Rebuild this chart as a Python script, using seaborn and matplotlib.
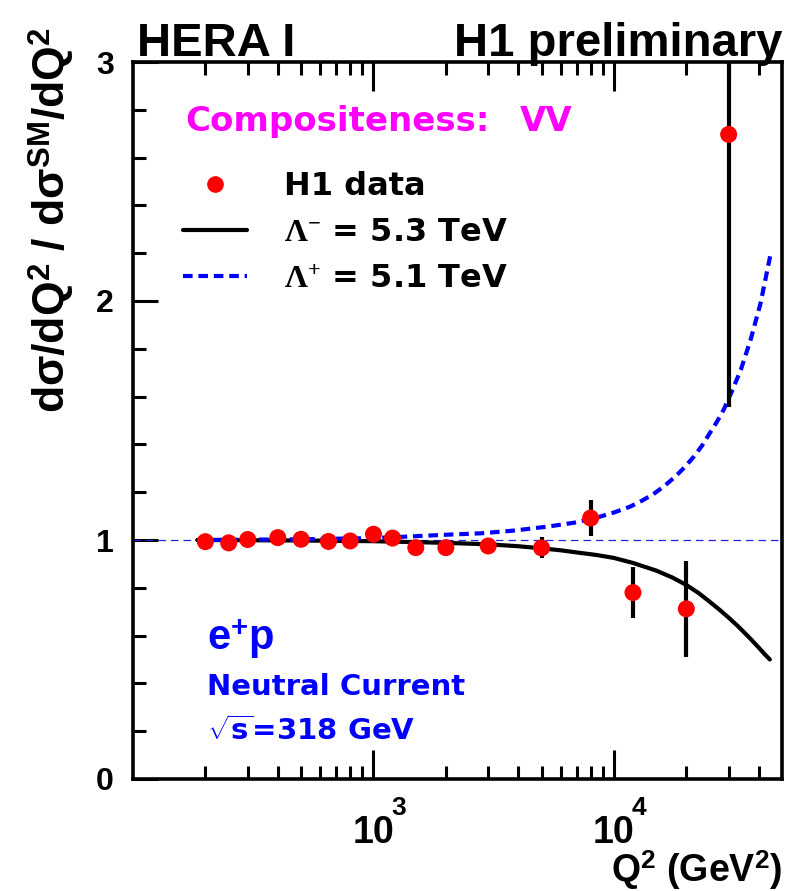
import matplotlib
matplotlib.use("Agg")
import matplotlib.pyplot as plt
from matplotlib.lines import Line2D
from matplotlib.ticker import FixedLocator, NullFormatter
from matplotlib.transforms import blended_transform_factory, offset_copy
import seaborn as sns
import pandas as pd

# H1 e+p neutral-current cross section ratio to the Standard Model
q2 = [200, 250, 300, 400, 500, 650, 800, 1000, 1200, 1500, 2000, 3000,
      5000, 8000, 12000, 20000, 30000]
ratio = [0.993, 0.988, 1.002, 1.010, 1.003, 0.994, 0.996, 1.024, 1.008,
         0.968, 0.968, 0.975, 0.967, 1.092, 0.780, 0.712, 2.697]
ratio_err = [0.012, 0.012, 0.012, 0.012, 0.012, 0.012, 0.012, 0.014, 0.015,
             0.018, 0.020, 0.025, 0.044, 0.075, 0.105, 0.200, 1.140]

# contact-interaction predictions (VV model)
lam_minus_q2 = [185, 500, 1000, 2000, 3000, 4000, 5000, 6000, 7000, 8500,
                10000, 12000, 15000, 17500, 20000, 22500, 25000, 27500,
                30000, 32500, 35000, 37500, 40000, 42000, 44500]
lam_minus_ratio = [1.000, 0.998, 0.995, 0.988, 0.982, 0.974, 0.965, 0.957,
                   0.948, 0.937, 0.925, 0.904, 0.872, 0.843, 0.812, 0.778,
                   0.742, 0.708, 0.675, 0.643, 0.611, 0.580, 0.550, 0.526,
                   0.500]

lam_plus_q2 = [185, 500, 1000, 1500, 2000, 2800, 3800, 5300, 6800, 8500,
               10000, 11700, 13000, 14600, 16200, 18000, 19700, 21500, 23300,
               25000, 26900, 28700, 31000, 33700, 37000, 40700, 44900]
lam_plus_ratio = [1.000, 1.003, 1.008, 1.016, 1.022, 1.028, 1.039, 1.056,
                  1.072, 1.094, 1.115, 1.140, 1.163, 1.192, 1.226, 1.265,
                  1.305, 1.349, 1.396, 1.446, 1.497, 1.548, 1.624, 1.712,
                  1.837, 1.990, 2.200]

legend_labels = ["H1 data", r"$\mathrm{\Lambda}^{-}$ = 5.3 TeV",
                 r"$\mathrm{\Lambda}^{+}$ = 5.1 TeV"]

sns.set_style("ticks")
plt.rcParams["font.family"] = ["Liberation Sans", "DejaVu Sans"]
plt.rcParams["font.weight"] = "bold"
plt.rcParams["text.color"] = "black"
plt.rcParams["axes.labelcolor"] = "black"
plt.rcParams["xtick.color"] = "black"
plt.rcParams["ytick.color"] = "black"
plt.rcParams["mathtext.fontset"] = "custom"
plt.rcParams["mathtext.rm"] = "Liberation Serif"
plt.rcParams["mathtext.it"] = "Liberation Serif:italic"
plt.rcParams["mathtext.bf"] = "Liberation Serif:bold"

NARROW = ["Liberation Sans Narrow", "Liberation Sans"]

fig = plt.figure(figsize=(8.0, 8.91), dpi=100)
ax = fig.add_axes([133 / 800, 112 / 891, 649 / 800, 717 / 891])

data = pd.DataFrame({"q2": q2, "ratio": ratio, "err": ratio_err})
minus = pd.DataFrame({"q2": lam_minus_q2, "ratio": lam_minus_ratio})
plus = pd.DataFrame({"q2": lam_plus_q2, "ratio": lam_plus_ratio})

ax.set_xscale("log")
ax.set_xlim(100, 50000)
ax.set_ylim(0, 3)

# SM reference line
ax.axhline(1.0, color="#2020e0", lw=0.9, ls=(0, (6, 4)), zorder=1)

sns.lineplot(data=minus, x="q2", y="ratio", ax=ax, color="black", lw=3.0,
             zorder=2, legend=False)
sns.lineplot(data=plus, x="q2", y="ratio", ax=ax, color="#0000ff", lw=3.0,
             zorder=2, legend=False)
ax.lines[-1].set_dashes((2.3, 1.4))

ax.errorbar(data["q2"], data["ratio"], yerr=data["err"], fmt="none",
            ecolor="black", elinewidth=3.0, capsize=0, zorder=3)
sns.scatterplot(data=data, x="q2", y="ratio", ax=ax, color="#ff0000", s=150,
                edgecolor="none", linewidth=0, zorder=4, legend=False)

# frame and ticks
for sp in ax.spines.values():
    sp.set_linewidth(2.6)
    sp.set_color("black")
ax.set_xlabel("")
ax.set_ylabel("")

ax.yaxis.set_major_locator(FixedLocator([0, 1, 2, 3]))
ax.yaxis.set_minor_locator(FixedLocator([0.2, 0.4, 0.6, 0.8, 1.2, 1.4, 1.6,
                                         1.8, 2.2, 2.4, 2.6, 2.8]))
ax.set_yticklabels(["0", "1", "2", "3"], family=NARROW, weight="bold",
                   fontsize=23)

major_x = [1000, 10000]
major_x_exp = ["3", "4"]
ax.xaxis.set_major_locator(FixedLocator(major_x))
ax.xaxis.set_minor_locator(FixedLocator(
    [200, 300, 400, 500, 600, 700, 800, 900,
     2000, 3000, 4000, 5000, 6000, 7000, 8000, 9000,
     20000, 30000, 40000]))
ax.xaxis.set_minor_formatter(NullFormatter())
ax.set_xticklabels(["10"] * len(major_x), family=NARROW, weight="bold",
                   fontsize=27)
# decade exponents raised beside each "10"
xtrans = blended_transform_factory(ax.transData, ax.transAxes)
for xv, ex in zip(major_x, major_x_exp):
    ax.text(xv, 0, ex, transform=offset_copy(xtrans, fig=fig, x=18, y=-21,
                                             units="points"),
            family=NARROW, weight="bold", fontsize=19, ha="center",
            va="center", clip_on=False)

ax.tick_params(axis="x", which="major", direction="in", length=21, width=2.2,
               top=True, bottom=True, pad=26)
ax.tick_params(axis="x", which="minor", direction="in", length=9.5, width=2.2,
               top=True, bottom=True)
ax.tick_params(axis="y", which="major", direction="in", length=18, width=2.2,
               left=True, right=False, pad=14)
ax.tick_params(axis="y", which="minor", direction="in", length=9, width=2.2,
               left=True, right=False)

# legend
handles = [
    Line2D([], [], ls="none", marker="o", color="#ff0000", markersize=12,
           markeredgewidth=0),
    Line2D([], [], color="black", lw=3.0),
    Line2D([], [], color="#0000ff", lw=3.0, dashes=(2.3, 1.4)),
]
ax.legend(handles, legend_labels, loc="upper left",
          bbox_to_anchor=(0.077, 0.848), frameon=False, borderpad=0,
          borderaxespad=0, handlelength=2.0, handletextpad=1.15,
          labelspacing=0.48,
          prop={"family": "DejaVu Sans", "weight": "bold", "size": 23})

# annotations
ax.text(0.080, 0.904, "Compositeness:", transform=ax.transAxes,
        color="#ff00ff", family="DejaVu Sans", weight="bold", fontsize=24.5,
        va="baseline")
ax.text(0.596, 0.904, "VV", transform=ax.transAxes,
        color="#ff00ff", family="DejaVu Sans", weight="bold", fontsize=24.5,
        va="baseline")

ax.text(0.114, 0.180, r"e$^{\mathdefault{+}}$p", transform=ax.transAxes,
        color="#0000ff", family="Liberation Sans", weight="bold",
        fontsize=30, va="baseline")
ax.text(0.114, 0.117, "Neutral Current", transform=ax.transAxes,
        color="#0000ff", family="DejaVu Sans", weight="bold", fontsize=21,
        va="baseline")
ax.text(0.114, 0.054, r"$\sqrt{\mathdefault{s}}$=318 GeV",
        transform=ax.transAxes, color="#0000ff", family="DejaVu Sans",
        weight="bold", fontsize=21, va="baseline")

fig.text(137 / 800, (891 - 56) / 891, "HERA I", family="Liberation Sans",
         weight="bold", fontsize=34, va="baseline", ha="left")
fig.text(782 / 800, (891 - 56) / 891, "H1 preliminary",
         family="Liberation Sans", weight="bold", fontsize=34,
         va="baseline", ha="right")

fig.text(51 / 800, (891 - 27) / 891,
         r"d$\mathdefault{\sigma}$/dQ$^{\mathdefault{2}}$ / "
         r"d$\mathdefault{\sigma}^{\mathdefault{SM}}$/dQ$^{\mathdefault{2}}$",
         rotation=90, family=NARROW, weight="bold", fontsize=32,
         ha="center", va="top")
fig.text(782 / 800, (891 - 882) / 891,
         r"Q$^{\mathdefault{2}}$ (GeV$^{\mathdefault{2}}$)",
         family=NARROW, weight="bold", fontsize=27, ha="right",
         va="baseline")

fig.savefig("out.png", dpi=100)
